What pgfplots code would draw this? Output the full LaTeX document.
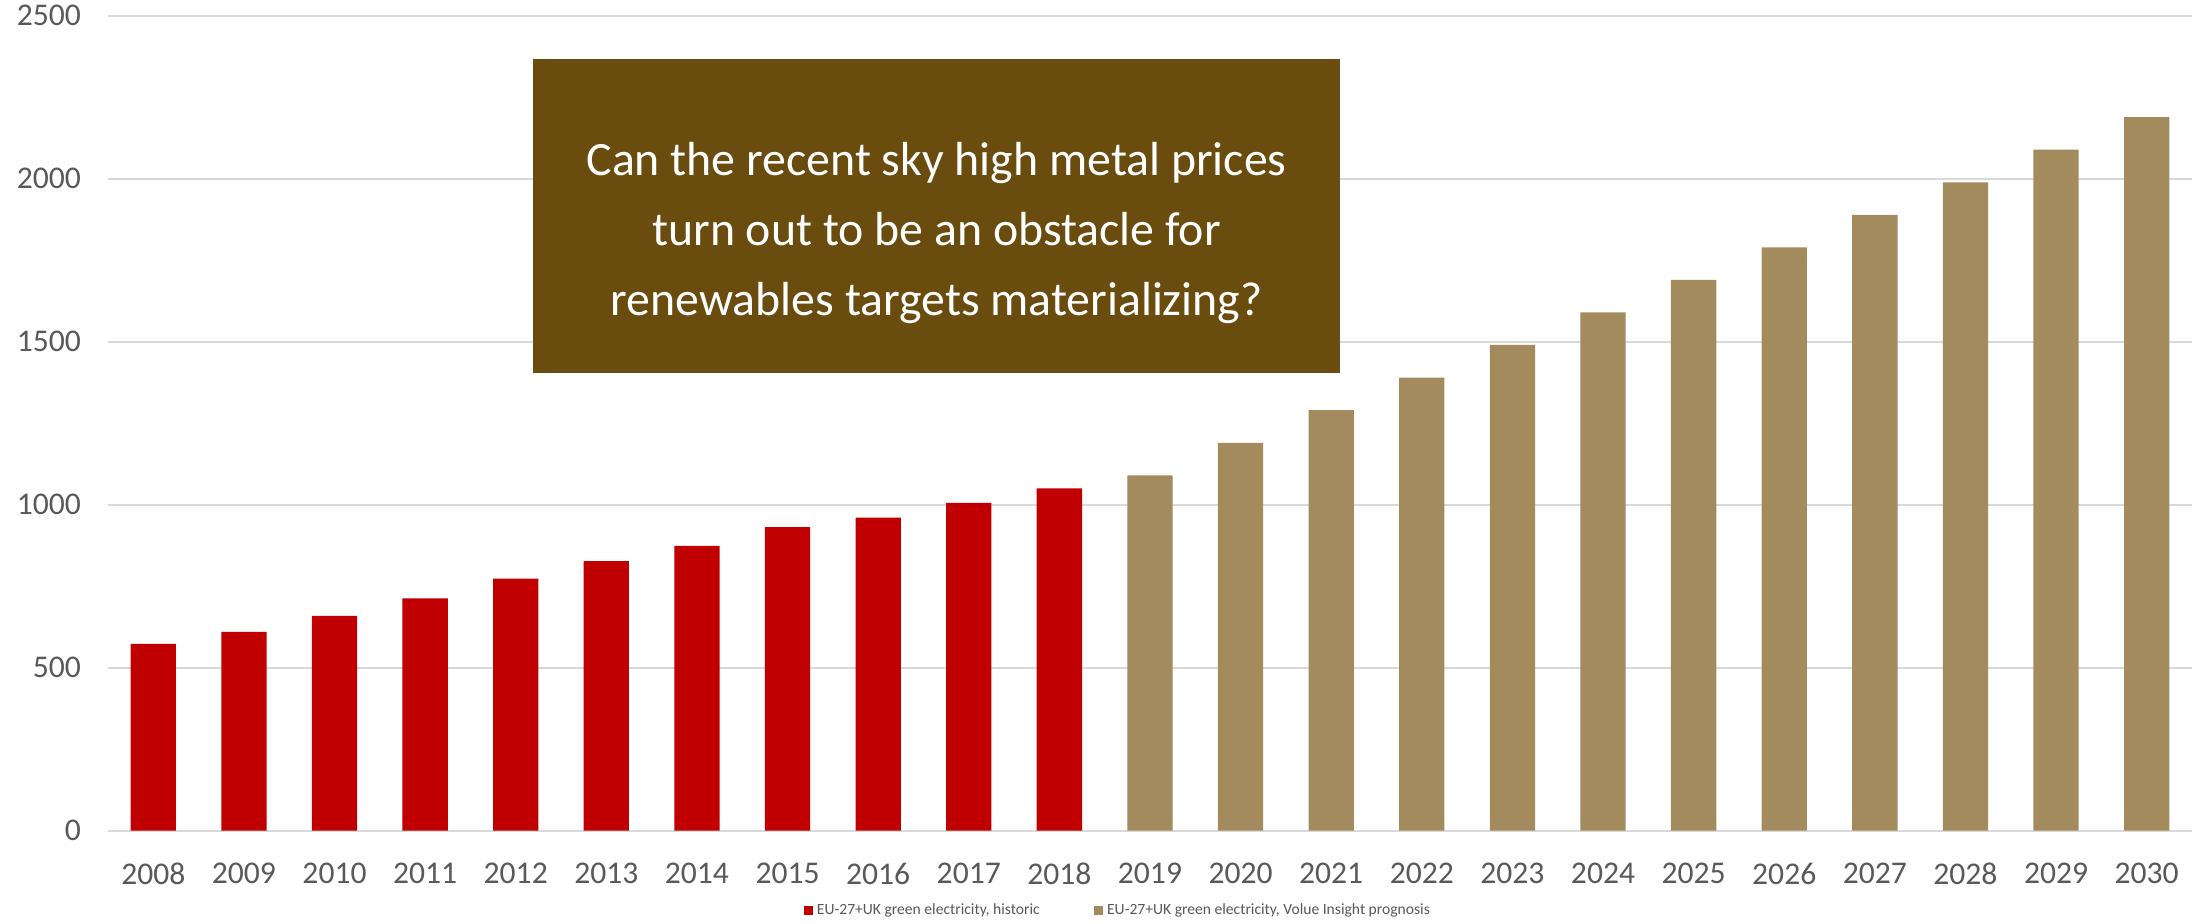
\documentclass[border=0pt]{standalone}
\usepackage{pgfplots}
\pgfplotsset{compat=1.18}
\usepackage{pgfplotstable}
\usepackage{fontspec}
\setmainfont{Carlito}
\definecolor{histred}{HTML}{C00000}
\definecolor{progtan}{HTML}{A38B5D}
\definecolor{boxbrown}{HTML}{6A4C0E}
\definecolor{ticktext}{HTML}{595959}
\definecolor{gridgray}{HTML}{D9D9D9}

\pgfplotstableread{
x y
0 573
1 610
2 659
3 713
4 773
5 827
6 874
7 931
8 960
9 1006
10 1050
}\historic

\pgfplotstableread{
x y
11 1090
12 1190
13 1290
14 1390
15 1490
16 1590
17 1690
18 1789
19 1889
20 1989
21 2089
22 2189
}\prognosis

\begin{document}
\begin{tikzpicture}
\path[use as bounding box] (-54pt,-46.15pt) rectangle (1046.5pt,415.35pt);
\begin{axis}[
  scale only axis,
  width=1042pt, height=407.5pt,
  xmin=-0.5, xmax=22.5,
  ymin=0, ymax=2500,
  ytick={0,500,1000,1500,2000,2500},
  xtick={0,...,22},
  xticklabels={2008,2009,2010,2011,2012,2013,2014,2015,2016,2017,2018,2019,2020,2021,2022,2023,2024,2025,2026,2027,2028,2029,2030},
  axis line style={draw=none},
  major tick length=0pt,
  ymajorgrids,
  grid style={gridgray, line width=1pt},
  /pgf/number format/assume math mode=true,
  /pgf/number format/1000 sep={},
  tick label style={font=\fontsize{15.8}{18}\selectfont, text=ticktext},
  yticklabel style={xshift=-10pt},
  xticklabel style={yshift=-12.5pt},
  ybar, bar width=0.5, bar shift=0pt,
  legend style={draw=none, at={(rel axis cs:0.485,-0.0976)}, anchor=center,
    font=\fontsize{7.8}{9}\selectfont, text=ticktext,
    /tikz/every even column/.append style={column sep=25pt}},
  legend columns=2,
  legend image code/.code={\fill[#1] (0pt,-2.35pt) rectangle (4.7pt,2.35pt);},
]
\addplot[fill=histred, draw=none] table[x=x,y=y]{\historic};
\addlegendentry{EU-27+UK green electricity, historic}
\addplot[fill=progtan, draw=none] table[x=x,y=y]{\prognosis};
\addlegendentry{EU-27+UK green electricity, Volue Insight prognosis}
\node[fill=boxbrown, minimum width=403.5pt, minimum height=157pt, inner sep=0pt]
  at (rel axis cs:0.3976,0.7542) {};
\node[text=white, align=center, font=\fontsize{23.9}{35}\selectfont, inner sep=0pt,
  yshift=-8.4pt]
  at (rel axis cs:0.3976,0.7542)
  {Can the recent sky high metal prices\\turn out to be an obstacle for\\renewables targets materializing?};
\end{axis}
\end{tikzpicture}
\end{document}
